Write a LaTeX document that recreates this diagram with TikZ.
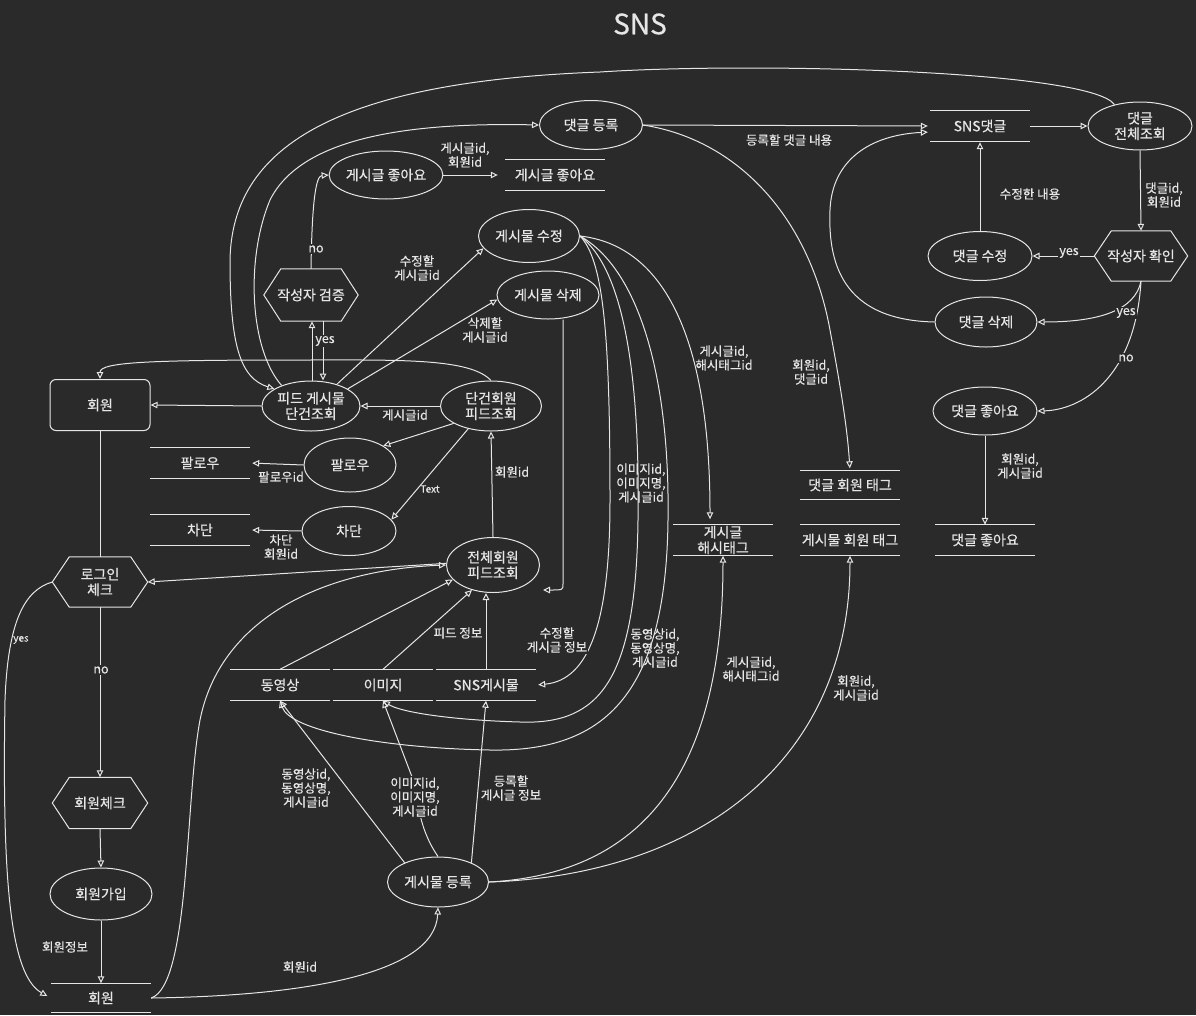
\documentclass[tikz,border=0pt]{standalone}
\usepackage{fontspec}
\setmainfont{Noto Sans CJK KR}[FakeBold=0.5]
\usetikzlibrary{shapes.geometric,arrows.meta}
\definecolor{bg}{HTML}{2A2A2A}
\definecolor{fg}{HTML}{E6E6E6}
\newcommand\nodefont{\fontsize{14}{15.5}\selectfont}
\newcommand\lblfont{\fontsize{12.5}{14}\selectfont}
\newcommand\smallfont{\fontsize{10}{12}\selectfont}
\newcommand\storelines[1]{\draw[ln] (#1.north west) -- (#1.north east) (#1.south west) -- (#1.south east);}
\newcommand\hexline[1]{\draw[ln] ([xshift=17pt]#1.north west) -- ([xshift=-17pt]#1.north east) -- (#1.east) -- ([xshift=-17pt]#1.south east) -- ([xshift=17pt]#1.south west) -- (#1.west) -- cycle;}
\begin{document}
\begin{tikzpicture}[x=1pt,y=-1pt,
  every node/.style={text=fg},
  ln/.style={draw=fg,line width=1pt},
  arr/.style={ln,-{Triangle[open,length=7pt,width=6.5pt]}},
  proc/.style={ellipse,draw=fg,line width=1pt,inner sep=0pt,align=center,minimum width=100pt,minimum height=50pt,font=\nodefont},
  hexa/.style={rectangle,inner sep=0pt,align=center,minimum width=95pt,minimum height=50pt,font=\nodefont},
  store/.style={rectangle,inner sep=0pt,align=center,minimum width=100pt,minimum height=30pt,font=\nodefont},
  lbl/.style={align=center,inner sep=1pt,font=\lblfont},
  lblf/.style={lbl,fill=bg},
  lbls/.style={align=center,inner sep=1pt,font=\smallfont},
  lblsf/.style={lbls,fill=bg}]
\fill[bg] (0,0) rectangle (1196,1015);
\useasboundingbox (0,0) rectangle (1196,1015);

% ---------- nodes ----------
\node[font=\fontsize{28}{28}\selectfont] (title) at (640,24) {SNS};
\node[proc,minimum width=103pt,minimum height=49pt] (creg) at (591,125) {댓글 등록};
\node[proc,minimum width=102pt,minimum height=48pt] (plike) at (386,175) {게시글 좋아요};
\node[store] (plikeS) at (555,175) {게시글 좋아요};
\node[proc,minimum width=101pt,minimum height=53pt] (pedit) at (529,236) {게시물 수정};
\node[proc,minimum width=102pt,minimum height=48pt] (pdel) at (548,295) {게시물 삭제};
\node[hexa,minimum width=94pt,minimum height=52pt] (wcheck) at (311,295) {작성자 검증};
\node[rectangle,draw=fg,line width=1pt,rounded corners=6pt,minimum width=100pt,minimum height=51pt,font=\nodefont] (mbox) at (100,405) {회원};
\node[proc,minimum width=98pt] (fpost) at (311,406) {피드 게시물\\단건조회};
\node[proc,minimum width=101pt] (single) at (491,406) {단건회원\\피드조회};
\node[store] (followS) at (200,463) {팔로우};
\node[proc,minimum width=92pt,minimum height=54pt] (follow) at (350,465) {팔로우};
\node[store,minimum height=31pt] (blockS) at (200,530) {차단};
\node[proc,minimum width=94pt,minimum height=49pt] (block) at (349,531) {차단};
\node[hexa] (login) at (100,582) {로그인\\체크};
\node[proc,minimum width=93pt,minimum height=55pt] (all) at (493,565) {전체회원\\피드조회};
\node[store,minimum height=31pt] (video) at (280,685) {동영상};
\node[store,minimum height=31pt] (img) at (383,685) {이미지};
\node[store,minimum height=31pt] (sns) at (486,685) {SNS게시물};
\node[store,minimum height=31pt] (hash) at (723,540) {게시글\\해시태그};
\node[store,minimum height=29pt] (ctag) at (850,485) {댓글 회원 태그};
\node[store,minimum height=31pt] (ptag) at (850,540) {게시물 회원 태그};
\node[store] (clikeS) at (985,540) {댓글 좋아요};
\node[store] (snsc) at (980,126) {SNS댓글};
\node[proc,minimum width=104pt,minimum height=48pt] (cview) at (1140,126) {댓글\\전체조회};
\node[hexa,minimum width=93pt] (wconf) at (1141,256) {작성자 확인};
\node[proc,minimum width=104pt,minimum height=49pt] (cedit) at (980,256) {댓글 수정};
\node[proc,minimum width=102pt] (cdel) at (986,322) {댓글 삭제};
\node[proc,minimum width=104pt,minimum height=48pt] (clike) at (985,411) {댓글 좋아요};
\node[hexa,minimum height=51pt] (mcheck) at (100,803) {회원체크};
\node[proc,minimum width=102pt,minimum height=52pt] (signup) at (101,894) {회원가입};
\node[store,minimum height=29pt] (memS) at (101,998) {회원};
\node[proc,minimum width=101pt] (preg) at (438,882) {게시물 등록};
\coordinate (delend) at (543,590);

\foreach \s in {plikeS,followS,blockS,video,img,sns,hash,ctag,ptag,clikeS,snsc,memS} {\storelines{\s}}
\foreach \h in {wcheck,login,wconf,mcheck} {\hexline{\h}}

% ---------- connectors ----------
\draw[arr] (cview.140) .. controls (1090,70) and (750,62) .. (600,72) .. controls (330,82) and (232,150) .. (230,260) .. controls (230,345) and (240,378) .. (fpost.155);
\draw[arr] (fpost.145) .. controls (250,350) and (245,260) .. (270,200) .. controls (300,140) and (400,122) .. (creg.west);
\draw[arr] ([xshift=1pt]fpost.north) -- ([xshift=1pt]wcheck.south);
\draw[arr] ([xshift=12pt]wcheck.south) -- ([xshift=12pt]fpost.north);
\draw[arr] (wcheck.north) .. controls (312,200) and (316,176) .. (plike.west);
\draw[arr,shorten >=7pt] (plike.east) -- (plikeS.west);
\draw[arr] (fpost.40) -- (pedit.195);
\draw[arr] (fpost.25) -- (pdel.185);
\draw[arr] (fpost.west) -- (mbox.east);
\draw[arr] (single.west) -- (fpost.east);
\draw[arr] (single.north) .. controls (470,358) and (400,360) .. (300,360) .. controls (150,360) and (100,362) .. (mbox.north);
\draw[arr] (single.205) -- (follow.30);
\draw[arr] (single.225) -- (block.15);
\draw[arr,shorten >=2pt] (follow.west) -- (followS.east);
\draw[arr,shorten >=2pt] (block.west) -- (blockS.east);
\draw[arr] (all.north) -- (single.south);
\draw[arr] (all.178) -- (login.east);
\draw[ln] (mbox.south) -- (login.north);
\draw[arr] (login.south) -- (mcheck.north);
\draw[arr,shorten >=4pt] (login.west) .. controls (25,590) and (8,620) .. (5,700) .. controls (2,880) and (10,975) .. (memS.west);
\draw[arr] (mcheck.south) -- (signup.north);
\draw[arr] (signup.south) -- (memS.north);
\draw[arr] (memS.east) .. controls (300,996) and (435,975) .. (preg.south);
\draw[arr] (memS.east) .. controls (190,985) and (185,800) .. (200,720) .. controls (220,620) and (320,570) .. (all.west);
\draw[arr] (preg.150) -- (video.south);
\draw[arr] (preg.north) .. controls (428,842) and (418,820) .. (417,790) -- (img.south);
\draw[arr] (preg.30) -- (sns.south);
\draw[arr] (preg.east) .. controls (620,875) and (723,800) .. (hash.south);
\draw[arr] (preg.east) .. controls (700,875) and (850,760) .. (ptag.south);
\draw[arr] (video.north) -- (all.200);
\draw[arr] (img.north) -- (all.230);
\draw[arr] (sns.north) -- (sns.north |- all.south);
\draw[arr,shorten >=5pt] (pedit.east) .. controls (660,245) and (710,330) .. ([xshift=-13pt]hash.north);
\draw[arr,shorten >=2pt] (pedit.east) .. controls (603,260) and (610,330) .. (610,500) .. controls (610,620) and (590,680) .. (sns.east);
\draw[arr] (pedit.east) .. controls (625,270) and (640,380) .. (638,520) .. controls (636,680) and (600,725) .. (520,722) .. controls (450,720) and (400,712) .. (img.south);
\draw[arr] (pedit.east) .. controls (640,270) and (670,380) .. (668,520) .. controls (666,700) and (600,752) .. (490,750) .. controls (380,748) and (290,730) .. (video.south);
\draw[arr] ([xshift=15pt]pdel.south) -- ([xshift=20pt,yshift=6pt]delend) .. controls ([xshift=20pt]delend) .. (delend);
\draw[arr,shorten >=2pt] (creg.east) -- (snsc.west);
\draw[arr,shorten >=2pt] (creg.east) .. controls (740,140) and (810,220) .. (830,330) .. controls (845,410) and (848,440) .. (ctag.north);
\draw[arr] (snsc.east) -- (cview.west);
\draw[arr] (cview.south) -- (wconf.north);
\draw[arr] (wconf.west) -- (cedit.east);
\draw[arr] (wconf.south) .. controls (1135,310) and (1100,322) .. (cdel.east);
\draw[arr] (wconf.south) .. controls (1135,380) and (1080,410) .. (clike.east);
\draw[arr,shorten >=1pt] (cedit.north) -- (snsc.south);
\draw[arr,shorten >=2pt] (cdel.west) .. controls (840,320) and (828,260) .. (830,210) .. controls (832,160) and (870,135) .. ([yshift=-6pt]snsc.west);
\draw[arr] (clike.south) -- (clikeS.north);

% ---------- labels ----------
\node[lbl] (l1) at (465,155) {게시글id,\\회원id};
\node[lblf] (l2) at (316,249) {no};
\node[lblf] (l3) at (325,341) {yes};
\node[lbl] (l4) at (417,268) {수정할\\게시글id};
\node[lbl] (l5) at (485,330) {삭제할\\게시글id};
\node[lbl] (l6) at (405,415) {게시글id};
\node[lbl] (l7) at (281,477) {팔로우id};
\node[lbl] (l8) at (281,547) {차단\\회원id};
\node[lbls] (l9) at (430,489) {Text};
\node[lbl] (l10) at (512,472) {회원id};
\node[lbl] (l11) at (458,633) {피드 정보};
\node[lblf] (l12) at (557,640) {수정할\\게시글 정보};
\node[lbls] (l13) at (21,640) {yes};
\node[lblf] (l14) at (101,670) {no};
\node[lbl] (l15) at (789,140) {등록할 댓글 내용};
\node[lbl] (l16) at (1030,194) {수정한 내용};
\node[lbl] (l17) at (1164,195) {댓글id,\\회원id};
\node[lblf] (l18) at (1069,253) {yes};
\node[lblf] (l19) at (1126,313) {yes};
\node[lblf] (l20) at (1126,358) {no};
\node[lbl] (l21) at (724,358) {게시글id,\\해시태그id};
\node[lbl] (l22) at (811,372) {회원id,\\댓글id};
\node[lbl] (l23) at (641,483) {이미지id,\\이미지명,\\게시글id};
\node[lbl] (l24) at (655,648) {동영상id,\\동영상명,\\게시글id};
\node[lbl] (l25) at (751,669) {게시글id,\\해시태그id};
\node[lbl] (l26) at (856,688) {회원id,\\게시글id};
\node[lbl] (l27) at (1020,466) {회원id,\\게시글id};
\node[lbl] (l28) at (306,788) {동영상id,\\동영상명,\\게시글id};
\node[lblf] (l29) at (415,797) {이미지id,\\이미지명,\\게시글id};
\node[lbl] (l30) at (511,788) {등록할\\게시글 정보};
\node[lbl] (l31) at (65,947) {회원정보};
\node[lbl] (l32) at (300,967) {회원id};
\end{tikzpicture}
\end{document}
